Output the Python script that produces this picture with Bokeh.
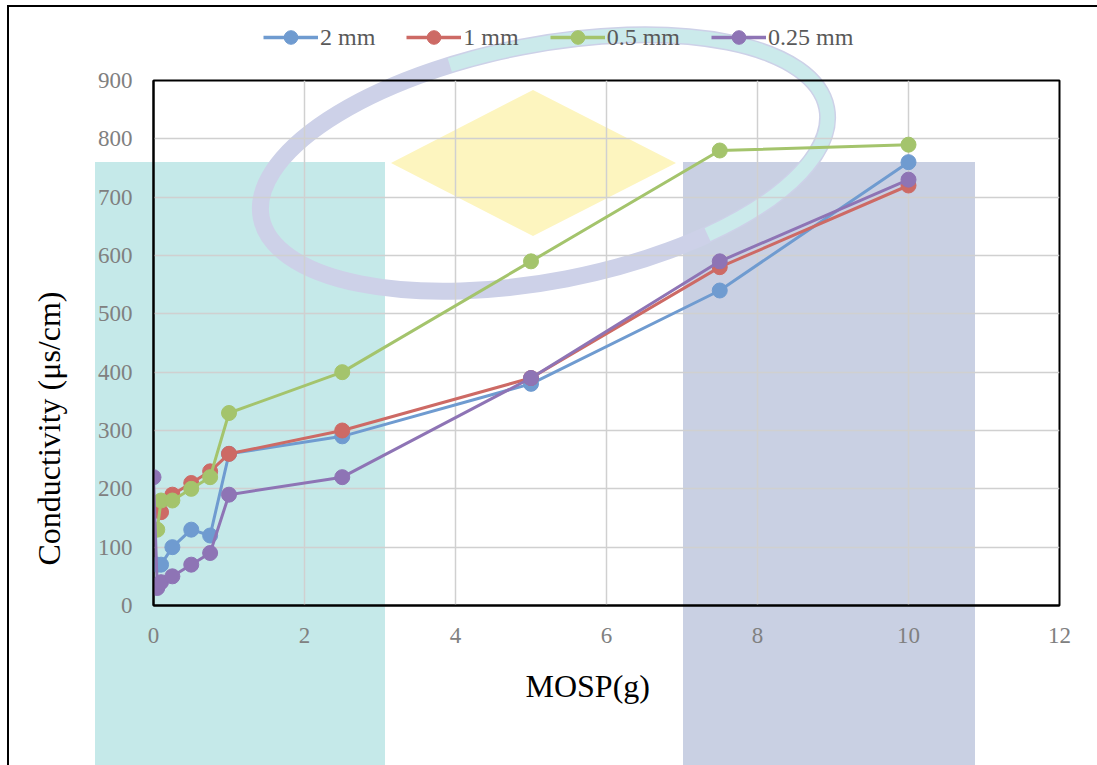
from urllib.parse import quote
from bokeh.plotting import figure
from bokeh.layouts import column
from bokeh.models import Legend, LegendItem, FixedTicker, Range1d, InlineStyleSheet, Title
from bokeh.embed import file_html
from bokeh.resources import INLINE

# ---- data ----
x_2mm = [0.05, 0.1, 0.25, 0.5, 0.75, 1, 2.5, 5, 7.5, 10]
y_2mm = [70, 70, 100, 130, 120, 260, 290, 380, 540, 760]
x_1mm = [0.1, 0.25, 0.5, 0.75, 1, 2.5, 5, 7.5, 10]
y_1mm = [160, 190, 210, 230, 260, 300, 390, 580, 720]
x_05mm = [0.05, 0.1, 0.25, 0.5, 0.75, 1, 2.5, 5, 7.5, 10]
y_05mm = [130, 180, 180, 200, 220, 330, 400, 590, 780, 790]
x_025mm = [0, 0.05, 0.1, 0.25, 0.5, 0.75, 1, 2.5, 5, 7.5, 10]
y_025mm = [220, 30, 40, 50, 70, 90, 190, 220, 390, 590, 730]

series_names = ["2 mm", "1 mm", "0.5 mm", "0.25 mm"]
x_ticks = [0, 2, 4, 6, 8, 10, 12]
y_ticks = [0, 100, 200, 300, 400, 500, 600, 700, 800, 900]
x_title = "MOSP(g)"
y_title = "Conductivity (μs/cm)"

colors = ["#6f9bd0", "#cd6a65", "#a4c46c", "#8e74b5"]
SERIF = "Liberation Serif"
TOP_H = 62

# ---- page background: the faint watermark of the source picture + outer border ----
bg_svg = (
    "<svg xmlns='http://www.w3.org/2000/svg' width='1097' height='765'>"
    "<rect width='1097' height='765' fill='white'/>"
    "<rect x='95' y='162' width='290' height='610' fill='#c5e9e9'/>"
    "<rect x='683' y='162' width='292' height='610' fill='#c9d0e3'/>"
    "<polygon points='391,163 533,90 676,163 533,236' fill='#fdf5bf'/>"
    "<ellipse cx='544' cy='163' rx='288' ry='118' transform='rotate(-11 544 163)' fill='none' "
    "stroke='#cdd1e8' stroke-width='17'/>"
    "<ellipse cx='544' cy='163' rx='288' ry='118' transform='rotate(-11 544 163)' fill='none' "
    "stroke='#cbeaeb' stroke-width='14' pathLength='360' stroke-dasharray='50 200 110'/>"
    "<rect x='8' y='6' width='1300' height='900' fill='none' stroke='black' stroke-width='2'/>"
    "</svg>"
)
bg_url = 'url("data:image/svg+xml,%s")' % quote(bg_svg, safe="")

# ---- legend strip above the chart (its key renderers lie outside its ranges) ----
top = figure(width=1097, height=TOP_H, output_backend="svg", toolbar_location=None,
             x_range=Range1d(100, 101), y_range=Range1d(5000, 5001),
             min_border_left=0, min_border_right=0, min_border_top=0, min_border_bottom=0)
top.stylesheets = [InlineStyleSheet(css=":host { background: %s no-repeat 0 0; }" % bg_url)]
top.background_fill_alpha = 0
top.border_fill_alpha = 0
top.outline_line_color = None
top.axis.visible = False
top.grid.visible = False

# ---- main chart ----
p = figure(width=1097, height=765 - TOP_H, output_backend="svg", toolbar_location=None,
           x_range=Range1d(0, 12), y_range=Range1d(0, 900),
           min_border_left=153, min_border_right=38, min_border_top=80 - TOP_H, min_border_bottom=160)
p.stylesheets = [InlineStyleSheet(css=":host { background: %s no-repeat 0 -%dpx; }" % (bg_url, TOP_H))]
p.background_fill_alpha = 0
p.border_fill_alpha = 0
p.outline_line_color = "black"
p.outline_line_width = 2

p.xaxis.ticker = FixedTicker(ticks=x_ticks)
p.yaxis.ticker = FixedTicker(ticks=y_ticks)
for ax in (p.xaxis[0], p.yaxis[0]):
    ax.major_tick_line_color = None
    ax.minor_tick_line_color = None
    ax.axis_line_color = "black"
    ax.axis_line_width = 2
    ax.major_label_text_font = SERIF
    ax.major_label_text_font_size = "23px"
    ax.major_label_text_color = "#808080"
p.xaxis.major_label_standoff = 16
p.yaxis.major_label_standoff = 15
p.grid.grid_line_color = "#d0d0d0"
p.grid.grid_line_width = 1.5

# axis titles as side titles, so they can sit off-centre like in the source
tstyle = dict(text_font=SERIF, text_font_size="32px", text_font_style="normal", text_color="black",
              align="left")
p.add_layout(Title(text=y_title, offset=40, standoff=56, **tstyle), "left")
p.add_layout(Title(text=x_title, offset=372, standoff=40, **tstyle), "below")

xs_all = [x_2mm, x_1mm, x_05mm, x_025mm]
ys_all = [y_2mm, y_1mm, y_05mm, y_025mm]
items = []
for name, xs, ys, c in zip(series_names, xs_all, ys_all, colors):
    p.line(xs, ys, line_color=c, line_width=3)
    p.scatter(xs, ys, size=15, fill_color=c, line_color=c)
    kl = top.line(xs, ys, line_color=c, line_width=3.5)
    ks = top.scatter(xs, ys, fill_color=c, line_color=c)
    items.append(LegendItem(label=name, renderers=[kl, ks]))

legend = Legend(items=items, orientation="horizontal", location=(108, 6), margin=0,
                label_text_font=SERIF, label_text_font_size="24px", label_text_color="#595959",
                glyph_width=55, glyph_height=34, label_standoff=2, spacing=31, padding=2,
                border_line_alpha=0, background_fill_alpha=0)
top.add_layout(legend, "center")

open("out.html", "w").write(file_html(column(top, p, spacing=0), INLINE))
